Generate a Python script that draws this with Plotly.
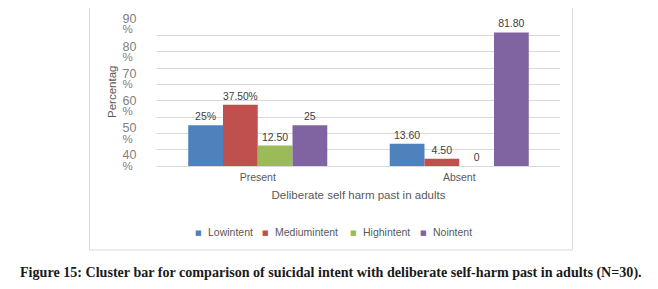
import plotly.graph_objects as go

categories = ["Present", "Absent"]
series_names = ["Lowintent", "Mediumintent", "Highintent", "Nointent"]
low_values = [25, 13.6]
medium_values = [37.5, 4.5]
high_values = [12.5, 0]
no_values = [25, 81.8]
low_labels = ["25%", "13.60"]
medium_labels = ["37.50%", "4.50"]
high_labels = ["12.50", "0"]
no_labels = ["25", "81.80"]
y_tick_values = [40, 50, 60, 70, 80, 90]
y_tick_numbers = ["40", "50", "60", "70", "80", "90"]
y_tick_units = ["%", "%", "%", "%", "%", "%"]
colors = ["#4F81BD", "#C0504D", "#9BBB59", "#8064A2"]

# page body has an 8px margin: work in screen pixels, convert to figure
OFF = 8
SW, SH = 658, 289
PL, PR, PT, PB = 157, 560, 19, 166  # plot box in screen pixels
W, H = SW - OFF, SH - OFF
PW, PH = PR - PL, PB - PT

def px(x):
    return (x - PL) / PW

def py(y):
    return 1 - (y - PT) / PH

FONT = "Liberation Sans, Arial, sans-serif"
TXT = "#595959"

fig = go.Figure()
all_values = [low_values, medium_values, high_values, no_values]
all_labels = [low_labels, medium_labels, high_labels, no_labels]
for name, vals, labs, col in zip(series_names, all_values, all_labels, colors):
    fig.add_trace(go.Bar(
        name=name, x=categories, y=vals, text=labs, textposition="outside",
        texttemplate="%{text}", cliponaxis=False,
        textfont=dict(family=FONT, size=10.5, color="#404040"),
        marker=dict(color=col, line=dict(width=0)), showlegend=False,
    ))

# invisible traces carrying the two-line y tick labels
fig.add_trace(go.Scatter(x=categories, y=[None, None], yaxis="y2", showlegend=False, hoverinfo="skip"))
fig.add_trace(go.Scatter(x=categories, y=[None, None], yaxis="y3", showlegend=False, hoverinfo="skip"))

fig.update_layout(
    width=W, height=H, autosize=False,
    margin=dict(l=PL - OFF, r=W - (PR - OFF), t=PT - OFF, b=H - (PB - OFF)),
    paper_bgcolor="white", plot_bgcolor="white",
    barmode="group", bargap=0.31, bargroupgap=0,
    xaxis=dict(
        showgrid=False, showline=True, linecolor="#D9D9D9", linewidth=1,
        ticks="outside", ticklen=1, tickcolor="rgba(0,0,0,0)",
        tickfont=dict(family=FONT, size=10.5, color=TXT),
        title=dict(text="Deliberate self harm past in adults",
                   font=dict(family=FONT, size=11.5, color=TXT), standoff=9),
        automargin=False,
    ),
    yaxis=dict(
        range=[0, 90], dtick=10, showgrid=True, gridcolor="#D9D9D9", gridwidth=1,
        showticklabels=False, zeroline=False, showline=False, automargin=False,
    ),
    yaxis2=dict(
        overlaying="y", side="left", range=[35.96, 90.0],
        tickmode="array", tickvals=y_tick_values, ticktext=y_tick_numbers,
        showgrid=False, zeroline=False, showline=False,
        ticks="outside", ticklen=17, tickcolor="rgba(0,0,0,0)",
        tickfont=dict(family=FONT, size=12.5, color="#7F7F7F"), automargin=False,
    ),
    yaxis3=dict(
        overlaying="y", side="left", range=[39.99, 93.77],
        tickmode="array", tickvals=y_tick_values, ticktext=y_tick_units,
        showgrid=False, zeroline=False, showline=False,
        ticks="outside", ticklen=21, tickcolor="rgba(0,0,0,0)",
        tickfont=dict(family=FONT, size=11.5, color="#7F7F7F"), automargin=False,
    ),
)

# y axis title
fig.add_annotation(x=px(112), y=py(92), xref="paper", yref="paper", text="Percentag",
                   textangle=-90, showarrow=False, xanchor="center", yanchor="middle",
                   font=dict(family=FONT, size=11.5, color=TXT))

# legend drawn as annotations
legend_sq_x = [198, 265, 353, 423]
for name, col, sx in zip(series_names, colors, legend_sq_x):
    fig.add_annotation(x=px(sx), y=py(233), xref="paper", yref="paper",
                       text="■", showarrow=False, xanchor="center", yanchor="middle",
                       font=dict(family="DejaVu Sans", size=7, color=col))
    fig.add_annotation(x=px(sx + 8), y=py(232), xref="paper", yref="paper",
                       text=name, showarrow=False, xanchor="left", yanchor="middle",
                       font=dict(family=FONT, size=10.5, color=TXT))

# chart area border
fig.add_shape(type="rect", xref="paper", yref="paper",
              x0=px(89.5), x1=px(572.5), y0=py(250), y1=py(7),
              line=dict(color="#D9D9D9", width=1), fillcolor="rgba(0,0,0,0)", layer="below")

# caption
fig.add_annotation(x=px(331), y=py(272), xref="paper", yref="paper",
                   text="<b>Figure 15: Cluster bar for comparison of suicidal intent with deliberate self-harm past in adults (N=30).</b>",
                   showarrow=False, xanchor="center", yanchor="middle",
                   font=dict(family="Liberation Serif, Times New Roman, serif", size=14.1, color="#1a1a1a"))

fig.write_html("out.html")
